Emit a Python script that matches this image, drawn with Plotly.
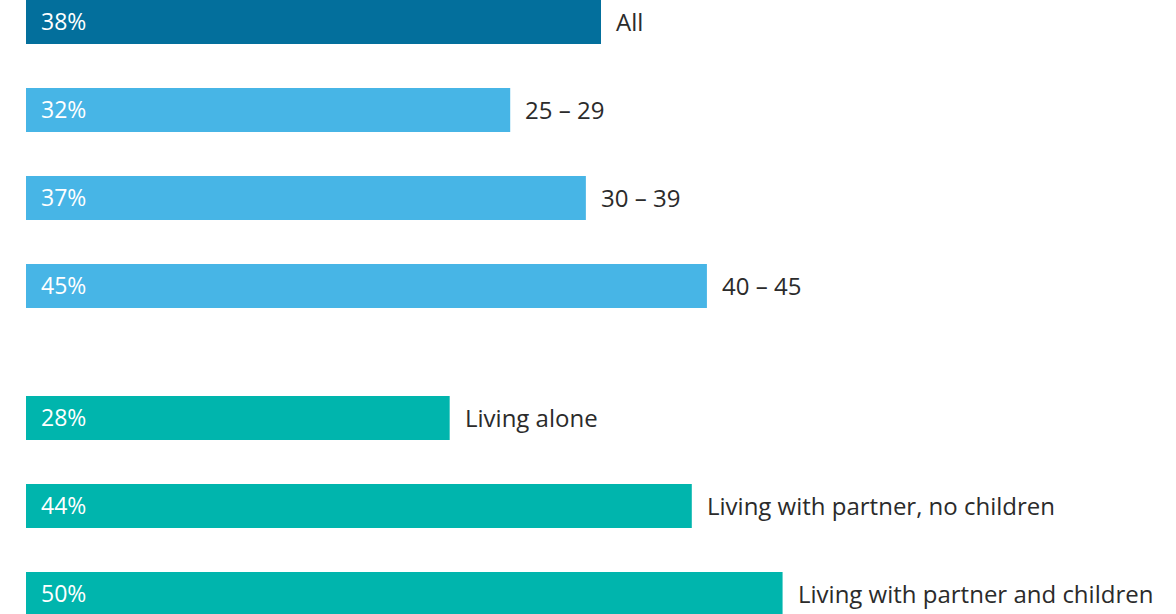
import plotly.graph_objects as go

# Share of respondents, by group
categories = ["All", "25 – 29", "30 – 39", "40 – 45",
              "Living alone", "Living with partner, no children",
              "Living with partner and children"]
values = [38, 32, 37, 45, 28, 44, 50]
positions = [0, 1, 2, 3, 4.5, 5.5, 6.5]
colors = ["#036f9c", "#47b5e6", "#47b5e6", "#47b5e6",
          "#00b5ad", "#00b5ad", "#00b5ad"]

FONT = "Open Sans"

fig = go.Figure()
fig.add_trace(go.Bar(
    x=values,
    y=positions,
    orientation="h",
    width=0.5,
    marker=dict(color=colors, line=dict(width=0)),
    hoverinfo="skip",
))

annotations = []
for cat, val, pos in zip(categories, values, positions):
    # value inside the bar, near its base
    annotations.append(dict(
        x=0, y=pos, xref="x", yref="y", text=f"{val}%",
        showarrow=False, xanchor="left", yanchor="middle",
        xshift=13, yshift=1,
        font=dict(family=FONT, size=23, color="white"),
    ))
    # category name just past the bar end
    annotations.append(dict(
        x=val, y=pos, xref="x", yref="y", text=cat,
        showarrow=False, xanchor="left", yanchor="middle",
        xshift=13, yshift=1,
        font=dict(family=FONT, size=24, color="#2b2b2b"),
    ))

fig.update_layout(
    width=1176,
    height=614,
    margin=dict(l=26, r=0, t=0, b=0),
    paper_bgcolor="white",
    plot_bgcolor="white",
    showlegend=False,
    xaxis=dict(range=[0, 76], visible=False, fixedrange=True),
    yaxis=dict(range=[6.727, -0.25], visible=False, fixedrange=True),
    annotations=annotations,
)

fig.write_html("out.html", config={"displayModeBar": False})
